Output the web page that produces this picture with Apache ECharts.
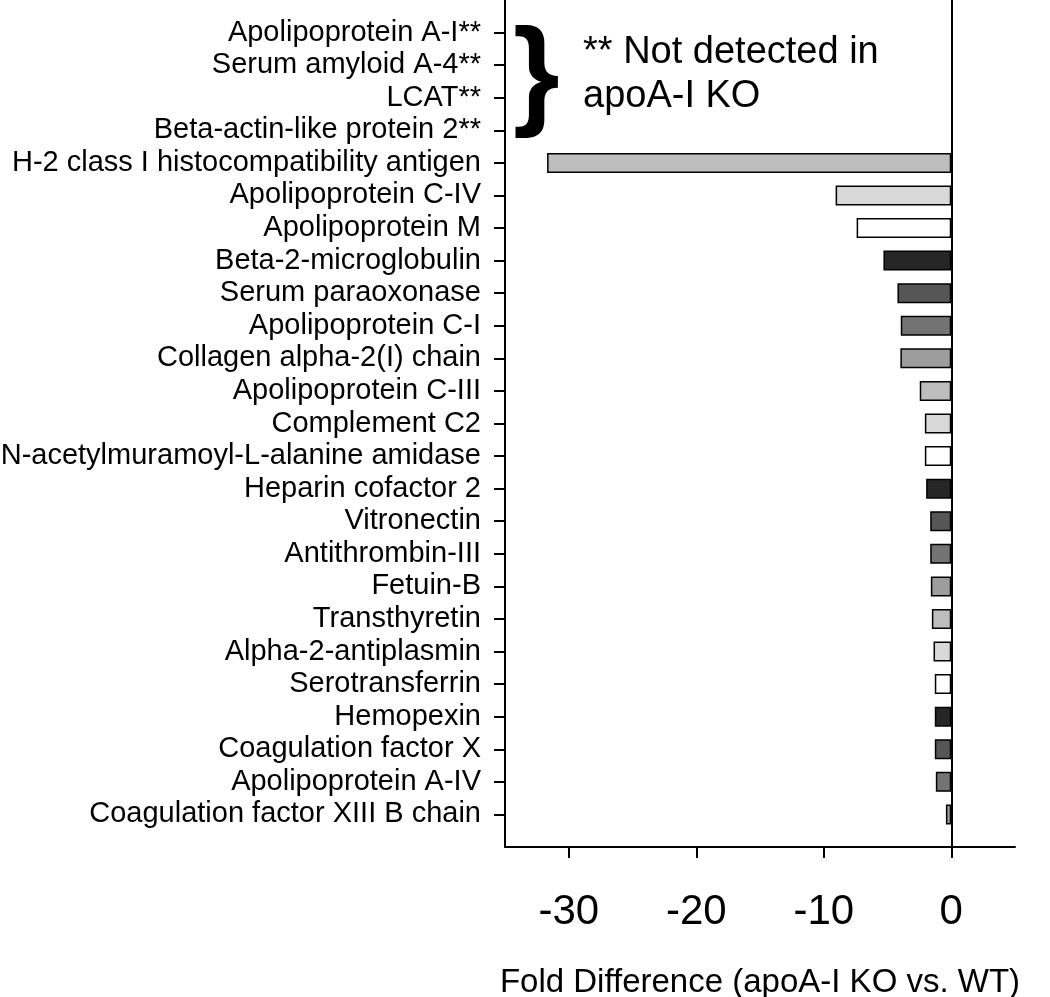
<!DOCTYPE html>
<html>
<head>
<meta charset="utf-8">
<script src="https://cdn.jsdelivr.net/npm/echarts@6/dist/echarts.min.js"></script>
<style>
html,body{margin:0;padding:0;background:#fff;}
#chart{width:1050px;height:997px;}
</style>
</head>
<body>
<div id="chart"></div>
<script>
// ---- data ----
var proteins = [
  'Apolipoprotein A-I**',
  'Serum amyloid A-4**',
  'LCAT**',
  'Beta-actin-like protein 2**',
  'H-2 class I histocompatibility antigen',
  'Apolipoprotein C-IV',
  'Apolipoprotein M',
  'Beta-2-microglobulin',
  'Serum paraoxonase',
  'Apolipoprotein C-I',
  'Collagen alpha-2(I) chain',
  'Apolipoprotein C-III',
  'Complement C2',
  'N-acetylmuramoyl-L-alanine amidase',
  'Heparin cofactor 2',
  'Vitronectin',
  'Antithrombin-III',
  'Fetuin-B',
  'Transthyretin',
  'Alpha-2-antiplasmin',
  'Serotransferrin',
  'Hemopexin',
  'Coagulation factor X',
  'Apolipoprotein A-IV',
  'Coagulation factor XIII B chain'
];
var foldDifference = [
  null, null, null, null,
  -31.7, -9.07, -7.42, -5.32, -4.22, -3.96, -3.99, -2.47, -2.07, -2.07,
  -1.97, -1.65, -1.65, -1.60, -1.52, -1.39, -1.29, -1.29, -1.29, -1.21, -0.42
];
var xTickValues = [-30, -20, -10, 0];
var xAxisTitle = 'Fold Difference (apoA-I KO vs. WT)';
var noteLines = ['** Not detected in', 'apoA-I KO'];

// ---- styles ----
var fillCycle = ['#262626', '#565656', '#737373', '#9c9c9c', '#bdbdbd', '#d8d8d8', '#ffffff'];
var FONT = "'Liberation Sans', Arial, Helvetica, sans-serif";

// category axis padded with blank slots so the axis extends half a step beyond the bars
var yCats = [''].concat(proteins).concat(['']);
var barData = [null].concat(foldDifference.map(function (v, i) {
  if (v == null) return null;
  // fill cycle anchored so Beta-2-microglobulin (index 7) is darkest
  var k = ((i - 7) % 7 + 7) % 7;
  return { value: v, itemStyle: { color: fillCycle[k] } };
})).concat([null]);

var chart = echarts.init(document.getElementById('chart'), null, { renderer: 'canvas' });
chart.setOption({
  backgroundColor: '#ffffff',
  animation: false,
  grid: { left: 505, right: 35, top: 0, height: 847, containLabel: false, outerBoundsMode: 'none' },
  xAxis: {
    type: 'value',
    min: -35,
    max: 5,
    axisLine: { show: true, lineStyle: { color: '#000', width: 2 } },
    axisTick: { show: true, length: 11, lineStyle: { color: '#000', width: 2 }, customValues: xTickValues },
    axisLabel: { show: true, color: '#000', fontSize: 42, fontFamily: FONT, margin: 44, customValues: xTickValues },
    splitLine: { show: false },
    name: xAxisTitle,
    nameLocation: 'middle',
    nameGap: 119,
    nameTextStyle: { color: '#000', fontSize: 33, fontFamily: FONT }
  },
  yAxis: {
    type: 'category',
    inverse: true,
    boundaryGap: false,
    data: yCats,
    axisLine: { show: true, onZero: false, lineStyle: { color: '#000', width: 2 } },
    axisTick: {
      show: true, length: 11, lineStyle: { color: '#000', width: 2 },
      interval: function (idx) { return idx > 0 && idx < yCats.length - 1; }
    },
    axisLabel: { show: true, interval: 0, color: '#000', fontSize: 29, fontFamily: FONT, margin: 24 },
    splitLine: { show: false }
  },
  series: [{
    type: 'bar',
    data: barData,
    barWidth: 20,
    itemStyle: { borderColor: '#000', borderWidth: 1.5 },
    markLine: {
      silent: true,
      symbol: ['none', 'none'],
      label: { show: false },
      lineStyle: { color: '#000', width: 2, type: 'solid' },
      data: [{ xAxis: 0 }]
    }
  }],
  graphic: [
    { type: 'text', x: 513, y: 80, style: { text: '}', font: 'bold 120px ' + FONT, fill: '#000', textVerticalAlign: 'middle' } },
    { type: 'text', x: 583, y: 53, style: { text: noteLines[0], font: '38px ' + FONT, fill: '#000', textVerticalAlign: 'middle' } },
    { type: 'text', x: 583, y: 97, style: { text: noteLines[1], font: '38px ' + FONT, fill: '#000', textVerticalAlign: 'middle' } }
  ]
});
</script>
</body>
</html>
